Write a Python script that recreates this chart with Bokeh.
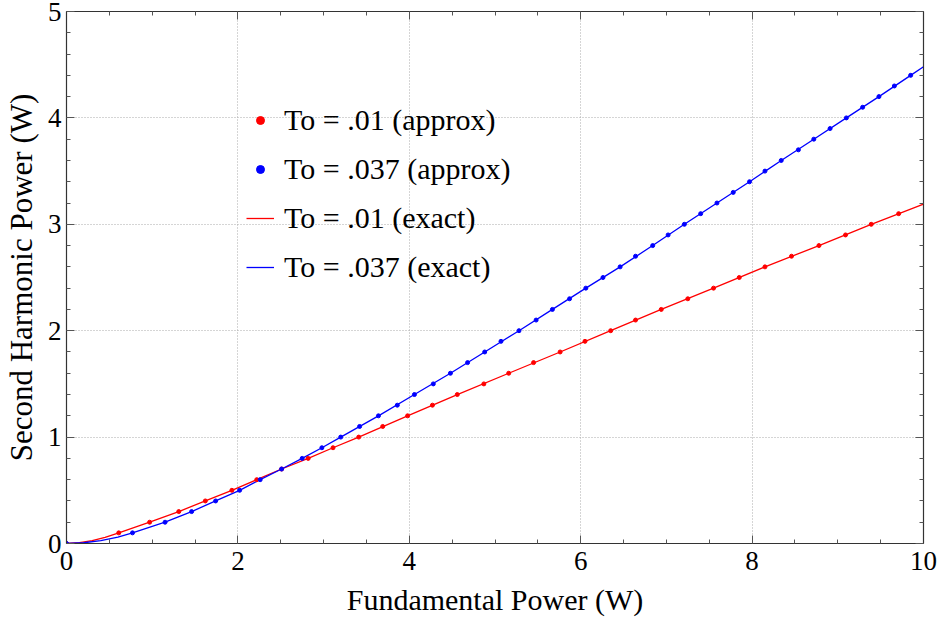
from bokeh.plotting import figure
from bokeh.models import (LinearAxis, Range1d, Legend, LegendItem, SingleIntervalTicker,
                          CustomJSTickFormatter)
from bokeh.embed import file_html
from bokeh.resources import INLINE

# approx points (y in steps of 0.1 W)
red_pts_x = [0.0, 0.61, 0.97, 1.31, 1.62, 1.93, 2.22, 2.51, 2.82, 3.11, 3.41, 3.69, 3.98, 4.27,
             4.56, 4.87, 5.16, 5.45, 5.76, 6.05, 6.35, 6.64, 6.94, 7.25, 7.55, 7.85, 8.15,
             8.46, 8.78, 9.09, 9.39, 9.71]
red_pts_y = [0.0, 0.1, 0.2, 0.3, 0.4, 0.5, 0.6, 0.7, 0.8, 0.9, 1.0, 1.1, 1.2, 1.3, 1.4, 1.5,
             1.6, 1.7, 1.8, 1.9, 2.0, 2.1, 2.2, 2.3, 2.4, 2.5, 2.6, 2.7, 2.8, 2.9, 3.0, 3.1]
blue_pts_x = [0.0, 0.77, 1.15, 1.46, 1.74, 2.02, 2.26, 2.51, 2.75, 2.98, 3.20, 3.42, 3.64, 3.86,
              4.06, 4.28, 4.48, 4.68, 4.88, 5.07, 5.28, 5.48, 5.67, 5.87, 6.06, 6.26, 6.46,
              6.64, 6.84, 7.02, 7.21, 7.40, 7.59, 7.78, 7.97, 8.15, 8.34, 8.54, 8.72, 8.91,
              9.10, 9.29, 9.48, 9.66, 9.85]
blue_pts_y = [0.0, 0.1, 0.2, 0.3, 0.4, 0.5, 0.6, 0.7, 0.8, 0.9, 1.0, 1.1, 1.2, 1.3, 1.4, 1.5,
              1.6, 1.7, 1.8, 1.9, 2.0, 2.1, 2.2, 2.3, 2.4, 2.5, 2.6, 2.7, 2.8, 2.9, 3.0, 3.1,
              3.2, 3.3, 3.4, 3.5, 3.6, 3.7, 3.8, 3.9, 4.0, 4.1, 4.2, 4.3, 4.4]

# exact curves
red_line_x = [0.0, 0.15, 0.3, 0.45, 0.61, 0.97, 1.31, 1.62, 1.93, 2.22, 2.51, 2.82, 3.11, 3.41,
              3.98, 4.56, 5.16, 5.76, 6.35, 6.94, 7.55, 8.15, 8.78, 9.39, 10.0]
red_line_y = [0.0, 0.008, 0.028, 0.058, 0.1, 0.2, 0.3, 0.4, 0.5, 0.6, 0.7, 0.8, 0.9, 1.0,
              1.2, 1.4, 1.6, 1.8, 2.0, 2.2, 2.4, 2.6, 2.8, 3.0, 3.19]
blue_line_x = [0.0, 0.2, 0.4, 0.6, 0.77, 1.15, 1.46, 1.74, 2.02, 2.26, 2.51, 2.75, 2.98, 3.20,
               3.64, 4.06, 4.48, 4.88, 5.28, 5.67, 6.06, 6.46, 6.84, 7.21, 7.59, 7.97, 8.34,
               8.72, 9.10, 9.48, 9.85, 10.0]
blue_line_y = [0.0, 0.007, 0.027, 0.06, 0.1, 0.2, 0.3, 0.4, 0.5, 0.6, 0.7, 0.8, 0.9, 1.0,
               1.2, 1.4, 1.6, 1.8, 2.0, 2.2, 2.4, 2.6, 2.8, 3.0, 3.2, 3.4, 3.6, 3.8, 4.0, 4.2,
               4.4, 4.48]

labels = ["To = .01 (approx)", "To = .037 (approx)", "To = .01 (exact)", "To = .037 (exact)"]

FONT = "Liberation Serif"

p = figure(width=943, height=621, output_backend="svg", toolbar_location=None,
           x_range=Range1d(0, 10), y_range=Range1d(0, 5),
           min_border_left=65, min_border_right=20, min_border_top=11, min_border_bottom=78)
p.background_fill_color = "white"
p.border_fill_color = "white"
p.outline_line_color = "#333333"
p.outline_line_width = 1.2

rl = p.line(red_line_x, red_line_y, line_color="#ff0000", line_width=1.3)
bl = p.line(blue_line_x, blue_line_y, line_color="#0000ff", line_width=1.3)
rs = p.scatter(red_pts_x, red_pts_y, size=4, fill_color="#ff0000", line_color="#ff0000")
bs = p.scatter(blue_pts_x, blue_pts_y, size=4, fill_color="#0000ff", line_color="#0000ff")

xt = SingleIntervalTicker(interval=2, num_minor_ticks=4)
yt = SingleIntervalTicker(interval=1, num_minor_ticks=5)

def style(ax, show_labels):
    ax.axis_line_color = "#333333"
    ax.major_tick_in = 8
    ax.major_tick_out = 0
    ax.minor_tick_in = 4
    ax.minor_tick_out = 0
    ax.major_tick_line_color = "#555555"
    ax.minor_tick_line_color = "#555555"
    ax.major_label_text_font = FONT
    ax.major_label_text_color = "black"
    ax.axis_label_text_font = FONT
    ax.axis_label_text_font_style = "normal"
    ax.axis_label_text_color = "black"
    if show_labels:
        ax.major_label_text_font_size = "27px"
        ax.axis_label_text_font_size = "30px"
    else:
        ax.formatter = CustomJSTickFormatter(code="return ''")
        ax.major_label_standoff = 0

p.xaxis.ticker = xt
p.yaxis.ticker = yt
p.xaxis.axis_label = "Fundamental Power (W)"
p.yaxis.axis_label = "Second Harmonic Power (W)"
style(p.xaxis[0], True)
style(p.yaxis[0], True)
p.xaxis.major_label_standoff = 8
p.xaxis.axis_label_standoff = 10
p.yaxis.major_label_standoff = 5
p.yaxis.axis_label_standoff = 6
p.yaxis.axis_label_text_font_size = "31px"

top = LinearAxis(ticker=SingleIntervalTicker(interval=2, num_minor_ticks=4))
right = LinearAxis(ticker=SingleIntervalTicker(interval=1, num_minor_ticks=5))
style(top, False)
style(right, False)
p.add_layout(top, "above")
p.add_layout(right, "right")

p.xgrid.ticker = xt
p.ygrid.ticker = yt
for g in (p.xgrid[0], p.ygrid[0]):
    g.grid_line_color = "#aaaaaa"
    g.grid_line_dash = "1 2"
    g.grid_line_width = 1

legend = Legend(items=[
    LegendItem(label=labels[0], renderers=[rs]),
    LegendItem(label=labels[1], renderers=[bs]),
    LegendItem(label=labels[2], renderers=[rl]),
    LegendItem(label=labels[3], renderers=[bl]),
], location=(180, 256))
legend.background_fill_alpha = 0
legend.border_line_alpha = 0
legend.label_text_font = FONT
legend.label_text_font_size = "30px"
legend.label_text_color = "black"
legend.glyph_width = 28
legend.glyph_height = 20
legend.label_height = 40
legend.spacing = 9
legend.padding = 0
legend.margin = 0
legend.label_standoff = 10
p.add_layout(legend, "center")

open("out.html", "w").write(file_html(p, INLINE))
